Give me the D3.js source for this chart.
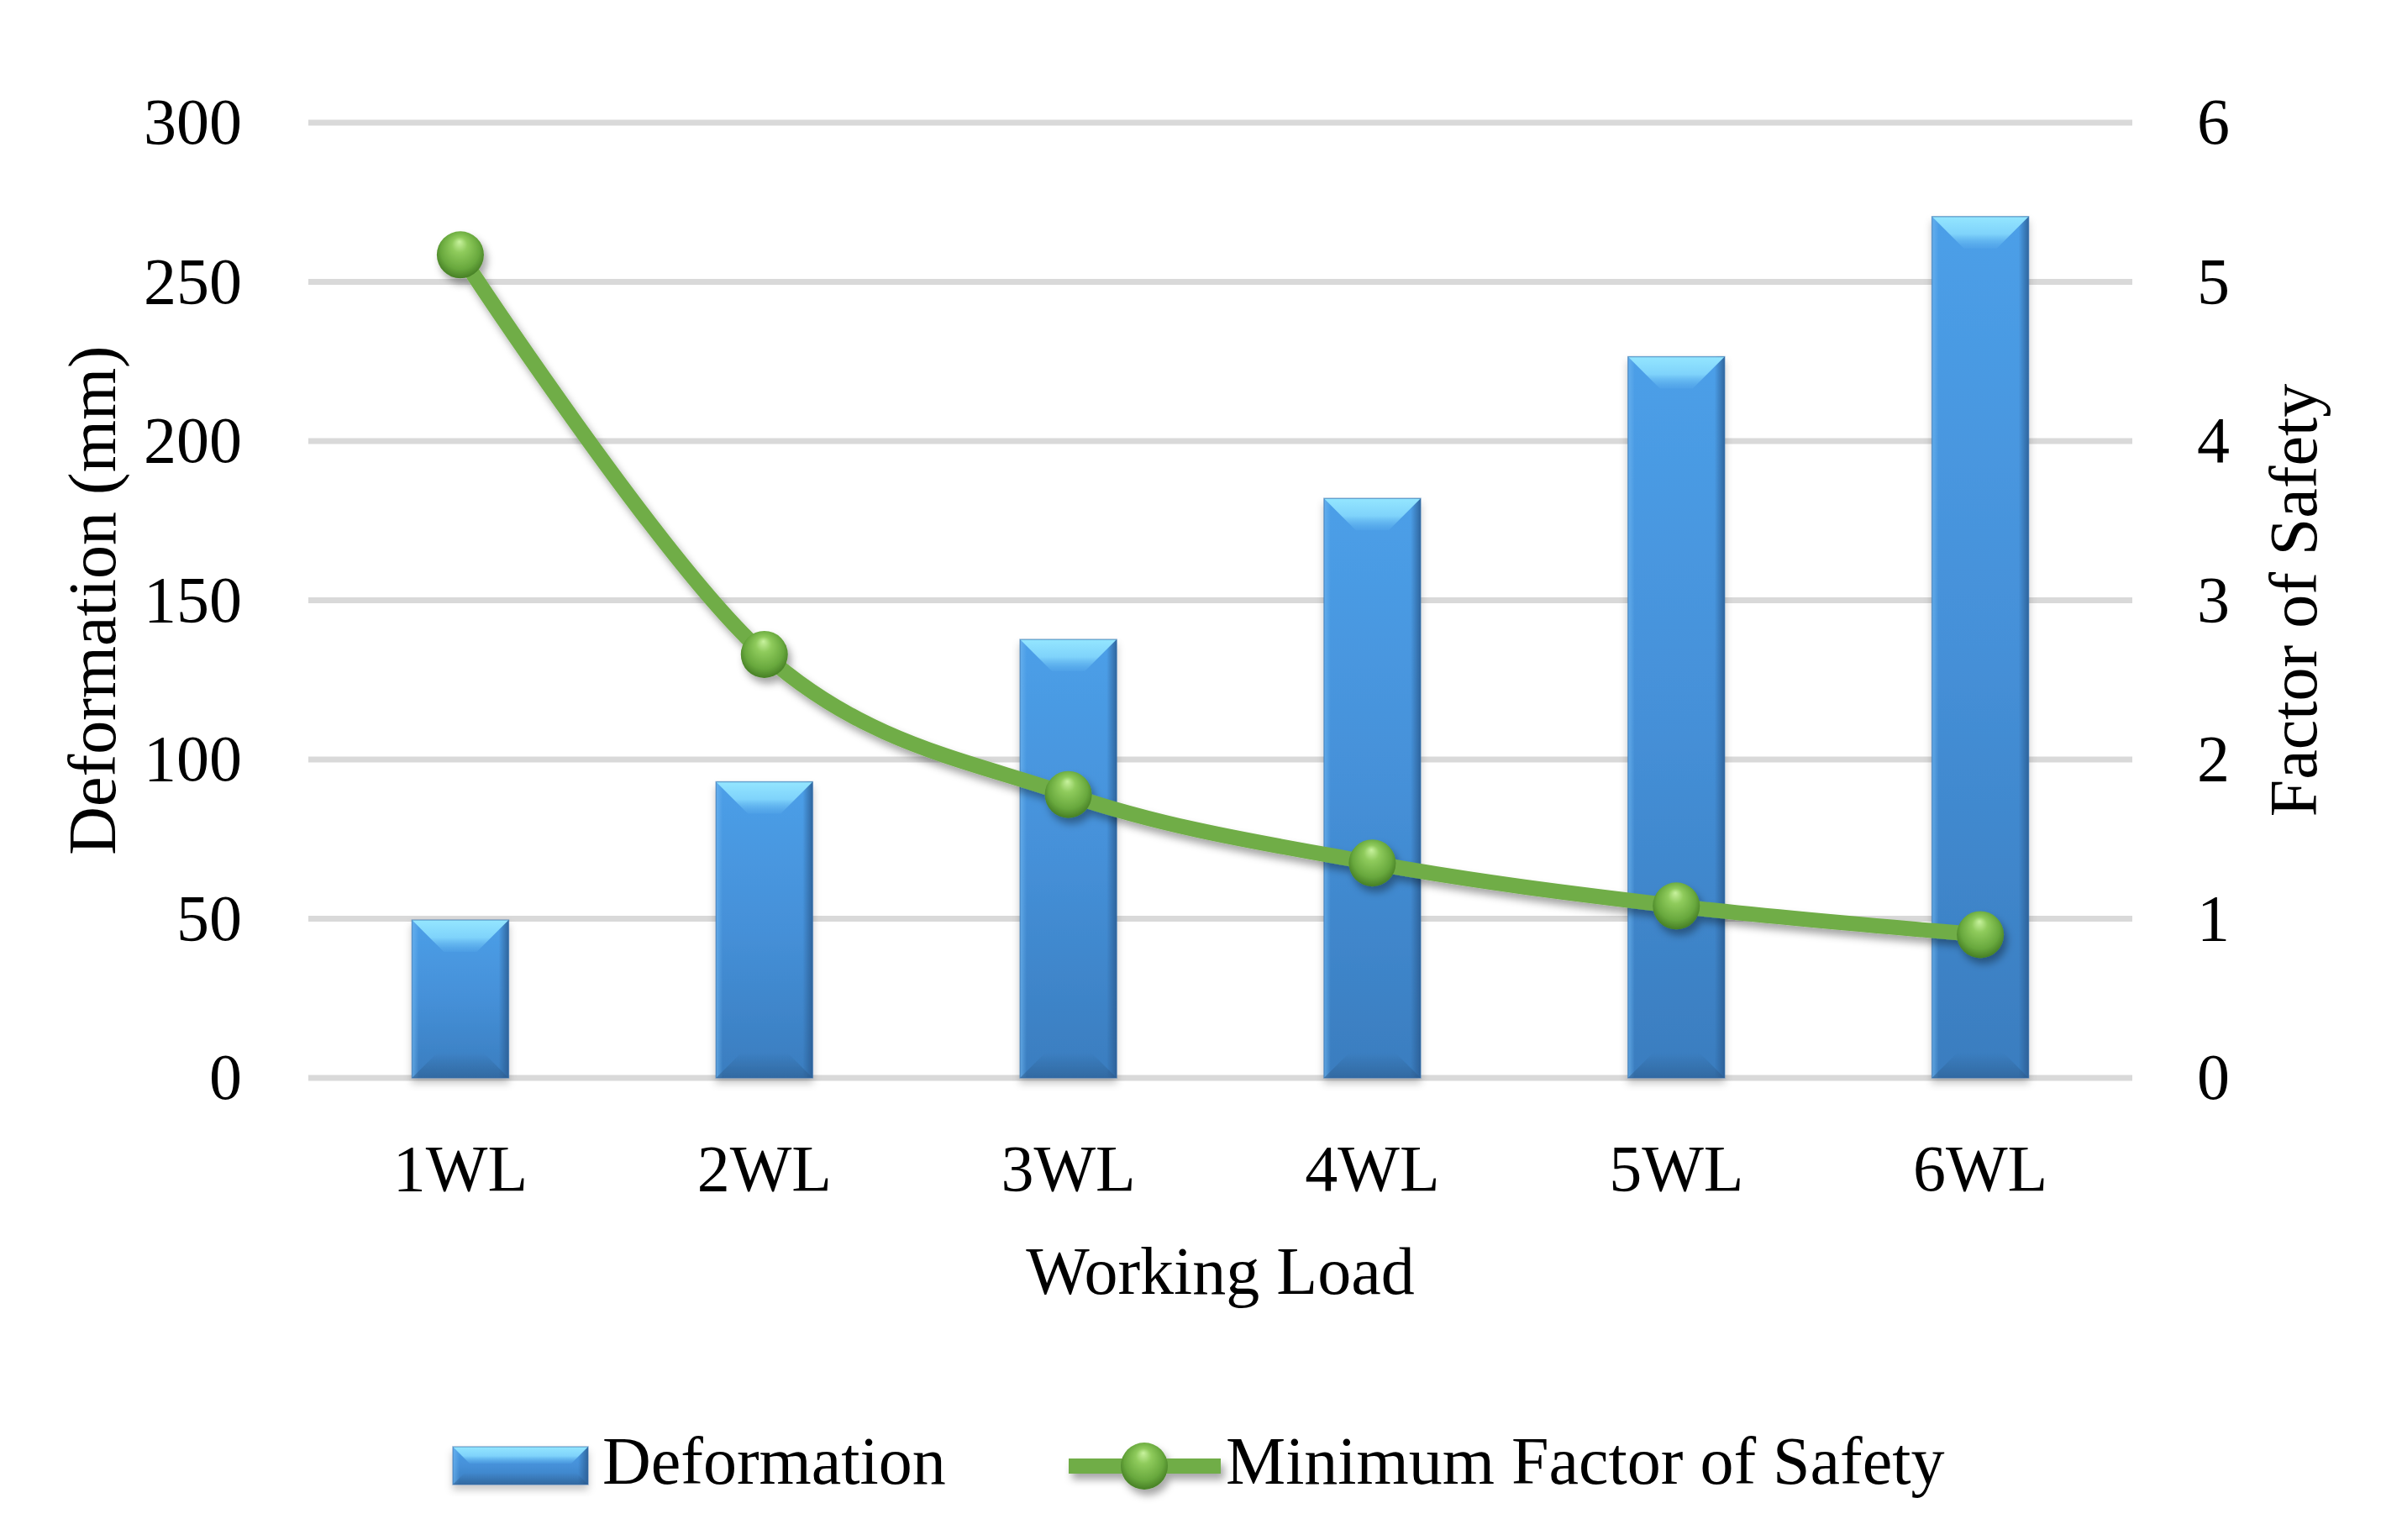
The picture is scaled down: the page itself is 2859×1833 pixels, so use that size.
<!DOCTYPE html>
<html>
<head>
<meta charset="utf-8">
<script src="https://cdn.jsdelivr.net/npm/d3@7"></script>
<style>
  body { margin: 0; background: #fff; }
  svg text { font-family: "Liberation Serif", "Times New Roman", serif; fill: #000; }
</style>
</head>
<body>
<svg id="chart"></svg>
<script>
// values
const categories = ['1WL', '2WL', '3WL', '4WL', '5WL', '6WL'];
const deformation = [49.6, 93, 137.7, 182, 226.5, 270.5];   // mm, bars (left axis)
const safetyFactor = [5.17, 2.66, 1.78, 1.35, 1.08, 0.90];  // line (right axis)
const leftTicks = [0, 50, 100, 150, 200, 250, 300];
const rightTicks = [0, 1, 2, 3, 4, 5, 6];
const seriesNames = ['Deformation', 'Minimum Factor of Safety'];

const W = 2859, H = 1833;
const plot = {left: 367, right: 2538, top: 146, bottom: 1283};
const green = '#70ad47';

const svg = d3.select('#chart').attr('width', W).attr('height', H);
svg.append('rect').attr('width', W).attr('height', H).attr('fill', '#fff');

// gradients + shadows for the Excel-ish bevel look
const defs = svg.append('defs');
function linGrad(id, x2, y2, stops) {
  let g = defs.append('linearGradient').attr('id', id)
    .attr('x1', 0).attr('y1', 0).attr('x2', x2).attr('y2', y2);
  stops.forEach(s => g.append('stop').attr('offset', s[0])
    .attr('stop-color', s[1]).attr('stop-opacity', s[2] == null ? 1 : s[2]));
}
linGrad('barBody', 0, 1, [[0, '#4c9fe8'], [0.5, '#4590d8'], [1, '#3a7dbf']]);
linGrad('barTop', 0, 1, [[0, '#94e6ff'], [0.55, '#7fd3fb'], [1, '#5fb3ef', 0.2]]);
linGrad('barBottom', 0, 1, [[0, '#2c5a8a', 0], [1, '#2c5a8a', 0.55]]);
linGrad('barRight', 1, 0, [[0, '#2a5c92', 0], [1, '#2a5c92', 0.85]]);
linGrad('barLeft', 1, 0, [[0, '#6fb6f0', 0.7], [1, '#6fb6f0', 0]]);

let rg = defs.append('radialGradient').attr('id', 'ball')
  .attr('cx', '50%').attr('cy', '45%').attr('r', '55%')
  .attr('fx', '48%').attr('fy', '22%');
[[0, '#c8f29e'], [0.3, '#8fcb5c'], [0.75, '#68a83d'], [1, '#467f25']]
  .forEach(s => rg.append('stop').attr('offset', s[0]).attr('stop-color', s[1]));

function shadow(id, dx, dy, sd, op) {
  defs.append('filter').attr('id', id)
    .attr('x', '-30%').attr('y', '-30%').attr('width', '160%').attr('height', '160%')
    .append('feDropShadow').attr('dx', dx).attr('dy', dy).attr('stdDeviation', sd)
    .attr('flood-color', '#000').attr('flood-opacity', op);
}
shadow('barShadow', 0, 6, 5, 0.22);
shadow('lineShadow', 4, 7, 5, 0.35);

// scales
const x = d3.scaleBand().domain(categories)
  .range([plot.left, plot.right]).paddingInner(0.682).paddingOuter(0.341);
const yL = d3.scaleLinear().domain([0, 300]).range([plot.bottom, plot.top]);
const yR = d3.scaleLinear().domain([0, 6]).range([plot.bottom, plot.top]);
const cx = c => x(c) + x.bandwidth() / 2;

// gridlines
svg.append('g').selectAll('line').data(leftTicks).enter().append('line')
  .attr('x1', plot.left).attr('x2', plot.right)
  .attr('y1', d => yL(d)).attr('y2', d => yL(d))
  .attr('stroke', '#d9d9d9').attr('stroke-width', 7);

function bevelBar(g, x0, y0, w, h, b, bb) {
  let x1 = x0 + w, y1 = y0 + h;
  g.append('rect').attr('x', x0).attr('y', y0).attr('width', w).attr('height', h)
    .attr('fill', 'url(#barBody)');
  g.append('rect').attr('x', x0).attr('y', y0).attr('width', 8).attr('height', h)
    .attr('fill', 'url(#barLeft)');
  g.append('rect').attr('x', x1 - 12).attr('y', y0).attr('width', 12).attr('height', h)
    .attr('fill', 'url(#barRight)');
  g.append('polygon')
    .attr('points', [[x0, y1], [x1, y1], [x1 - bb, y1 - bb], [x0 + bb, y1 - bb]].join(' '))
    .attr('fill', 'url(#barBottom)');
  g.append('polygon')
    .attr('points', [[x0, y0], [x1, y0], [x1 - b, y0 + b], [x0 + b, y0 + b]].join(' '))
    .attr('fill', 'url(#barTop)');
  g.append('rect').attr('x', x0).attr('y', y0).attr('width', w).attr('height', h)
    .attr('fill', 'none').attr('stroke', '#2f6aa6').attr('stroke-opacity', 0.5).attr('stroke-width', 1.5);
}

// bars
const bars = svg.append('g').attr('filter', 'url(#barShadow)');
categories.forEach((c, i) => {
  let g = bars.append('g');
  bevelBar(g, x(c), yL(deformation[i]), x.bandwidth(), yL(0) - yL(deformation[i]), 38, 30);
});

// smoothed safety-factor line
const line = d3.line()
  .x((d, i) => cx(categories[i]))
  .y(d => yR(d))
  .curve(d3.curveCardinal.tension(0));
const lineG = svg.append('g').attr('filter', 'url(#lineShadow)');
lineG.append('path').datum(safetyFactor).attr('d', line)
  .attr('fill', 'none').attr('stroke', green).attr('stroke-width', 18)
  .attr('stroke-linecap', 'round');
lineG.selectAll('circle').data(safetyFactor).enter().append('circle')
  .attr('cx', (d, i) => cx(categories[i])).attr('cy', d => yR(d))
  .attr('r', 28).attr('fill', 'url(#ball)');

// axes
const tickFont = 78;
function styleAxis(g) {
  g.select('.domain').remove();
  g.selectAll('text').style('font-size', tickFont + 'px')
    .style('font-family', '"Liberation Serif", "Times New Roman", serif').attr('fill', '#000');
}
svg.append('g').attr('transform', `translate(${plot.left},0)`)
  .call(d3.axisLeft(yL).tickValues(leftTicks).tickFormat(d3.format('d')).tickSize(0).tickPadding(79))
  .call(styleAxis);
svg.append('g').attr('transform', `translate(${plot.right},0)`)
  .call(d3.axisRight(yR).tickValues(rightTicks).tickFormat(d3.format('d')).tickSize(0).tickPadding(77))
  .call(styleAxis);
svg.append('g').attr('transform', `translate(0,${plot.bottom})`)
  .call(d3.axisBottom(x).tickSize(0).tickPadding(79))
  .call(styleAxis);

// axis titles
const titleFont = 80;
svg.append('text').attr('transform', `translate(137,${(plot.top + plot.bottom) / 2}) rotate(-90)`)
  .attr('text-anchor', 'middle').style('font-size', titleFont + 'px').text('Deformation (mm)');
svg.append('text').attr('transform', `translate(2757,${(plot.top + plot.bottom) / 2}) rotate(-90)`)
  .attr('text-anchor', 'middle').style('font-size', titleFont + 'px').text('Factor of Safety');
svg.append('text').attr('x', (plot.left + plot.right) / 2).attr('y', 1540)
  .attr('text-anchor', 'middle').style('font-size', titleFont + 'px').text('Working Load');

// legend
const legY = 1766;
const leg = svg.append('g');
bevelBar(leg.append('g').attr('filter', 'url(#barShadow)'), 539, 1722, 161, 45, 20, 14);
leg.append('text').attr('x', 717).attr('y', legY).style('font-size', titleFont + 'px').text(seriesNames[0]);
const legLine = leg.append('g').attr('filter', 'url(#lineShadow)');
legLine.append('line').attr('x1', 1272).attr('x2', 1453).attr('y1', 1745).attr('y2', 1745)
  .attr('stroke', green).attr('stroke-width', 18);
legLine.append('circle').attr('cx', 1362).attr('cy', 1745).attr('r', 28).attr('fill', 'url(#ball)');
leg.append('text').attr('x', 1459).attr('y', legY).style('font-size', titleFont + 'px').text(seriesNames[1]);
</script>
</body>
</html>
